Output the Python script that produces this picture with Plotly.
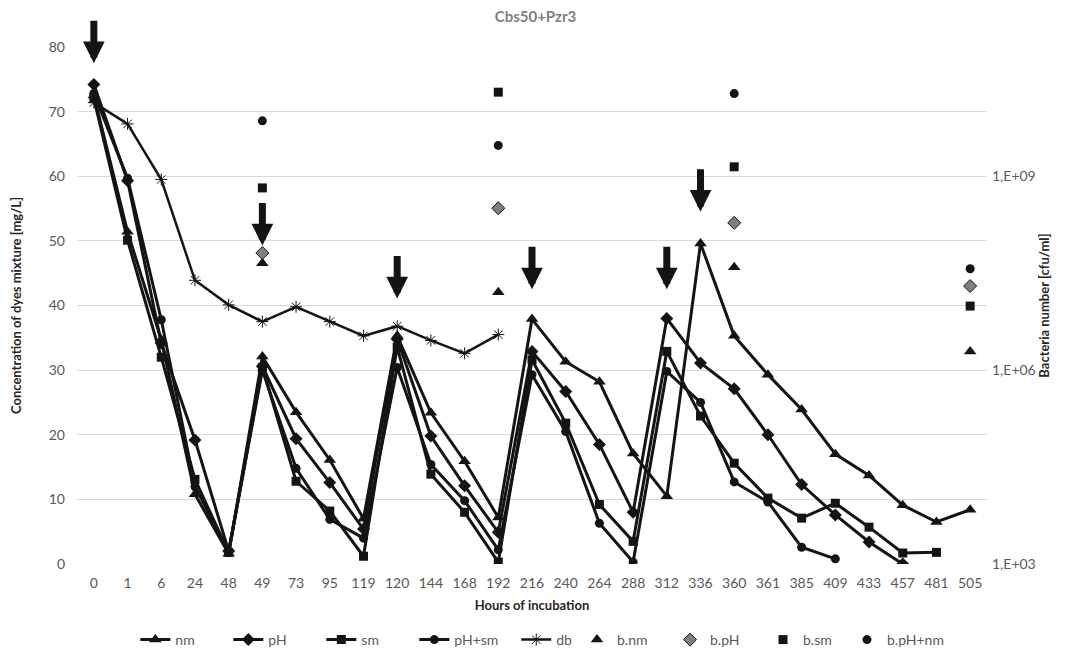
import plotly.graph_objects as go

hours = ["0", "1", "6", "24", "48", "49", "73", "95", "119", "120", "144", "168", "192",
         "216", "240", "264", "288", "312", "336", "360", "361", "385", "409", "433",
         "457", "481", "505"]

nm = [72.5, 51.4, 34.7, 10.8, 1.6, 32.1, 23.5, 16.1, 7.0, 35.3, 23.4, 15.9, 7.2,
      37.9, 31.3, 28.2, 17.1, 10.5, 49.6, 35.3, 29.3, 23.9, 17.0, 13.7, 9.1, 6.5, 8.4]
pH = [74.2, 59.3, 34.2, 19.2, 2.0, 30.6, 19.4, 12.6, 5.4, 34.8, 19.8, 12.1, 4.9,
      32.9, 26.7, 18.5, 8.0, 38.0, 31.1, 27.1, 20.0, 12.3, 7.6, 3.4, 0.0, None, None]
sm = [72.0, 50.1, 32.0, 13.1, 1.8, 30.4, 12.8, 8.2, 1.2, 33.6, 13.9, 8.0, 0.3,
      31.6, 21.8, 9.2, 3.5, 32.9, 22.9, 15.6, 10.2, 7.1, 9.4, 5.7, 1.7, 1.8, None]
pH_sm = [72.8, 59.7, 37.8, 12.0, 1.9, 30.0, 14.8, 6.9, 4.0, 30.4, 15.4, 9.8, 2.2,
         29.3, 20.5, 6.3, 0.3, 29.8, 25.0, 12.7, 9.6, 2.6, 0.8, None, None, None, None]
db = [71.4, 68.1, 59.5, 43.9, 40.1, 37.5, 39.8, 37.5, 35.3, 36.8, 34.6, 32.6, 35.5,
      None, None, None, None, None, None, None, None, None, None, None, None, None, None]

b_hours = ["49", "192", "360", "505"]
b_nm = [4.5e7, 1.6e7, 3.9e7, 1.95e6]
b_pH = [6.5e7, 3.2e8, 1.9e8, 2.0e7]
b_sm = [6.6e8, 2.0e10, 1.4e9, 9.8e6]
b_pH_nm = [7.2e9, 3.0e9, 1.9e10, 3.7e7]

arrow_hours = ["0", "49", "120", "216", "312", "336"]
arrow_tip = [77.5, 49.3, 41.1, 42.5, 42.5, 54.5]

FONT = "Lato, 'Open Sans', sans-serif"
LINE = "#141414"

fig = go.Figure()

line_series = [
    ("nm", nm, "triangle-up", 11),
    ("pH", pH, "diamond", 10),
    ("sm", sm, "square", 9),
    ("pH+sm", pH_sm, "circle", 9),
]
for name, vals, sym, size in line_series:
    fig.add_trace(go.Scatter(
        x=hours, y=vals, name=name, mode="lines+markers", legend="legend",
        line=dict(color=LINE, width=3),
        marker=dict(symbol=sym, size=size, color=LINE),
        connectgaps=False,
    ))

fig.add_trace(go.Scatter(
    x=hours, y=db, name="db", mode="lines+markers", legend="legend2",
    line=dict(color=LINE, width=2.5),
    marker=dict(symbol="asterisk-open", size=10, color=LINE, line=dict(color=LINE, width=1)),
))

bact = [
    ("b.nm", b_nm, "triangle-up", 11, LINE, "legend3"),
    ("b.pH", b_pH, "diamond", 10, "#7f7f7f", "legend3"),
    ("b.sm", b_sm, "square", 9, LINE, "legend3"),
    ("b.pH+nm", b_pH_nm, "circle", 9, LINE, "legend4"),
]
for name, vals, sym, size, col, leg in bact:
    fig.add_trace(go.Scatter(
        x=b_hours, y=vals, name=name, mode="markers", yaxis="y2", legend=leg,
        marker=dict(symbol=sym, size=size, color=col, line=dict(color=LINE, width=1 if col != LINE else 0)),
    ))

annotations = []
for h, tip in zip(arrow_hours, arrow_tip):
    annotations.append(dict(
        x=hours.index(h), y=tip, xref="x", yref="y", text="", showarrow=True,
        ax=0, ay=-44, arrowhead=2, arrowwidth=7, arrowsize=0.62, arrowcolor=LINE,
    ))


def legend_at(xpos, entry, anchor="left"):
    d = dict(orientation="h", xref="container", yref="container",
             x=xpos, xanchor=anchor, y=1 - 632 / 661, yanchor="middle",
             font=dict(size=14, color="#595959"), traceorder="normal",
             bgcolor="rgba(0,0,0,0)")
    if entry:
        d.update(entrywidth=entry, entrywidthmode="pixels")
    return d


fig.update_layout(
    width=1070, height=661,
    margin=dict(l=69, r=91, t=39, b=105),
    paper_bgcolor="white", plot_bgcolor="white",
    font=dict(family=FONT, size=14, color="#595959"),
    title=dict(text="<b>Cbs50+Pzr3</b>", xref="container", x=0.493, xanchor="center",
               yref="container", y=1 - 9 / 661, yanchor="middle",
               font=dict(family=FONT, size=15, color="#808080")),
    xaxis=dict(type="category", categoryorder="array", categoryarray=hours,
               range=[-0.5, len(hours) - 0.5], autorange=False, automargin=False,
               showgrid=False, showline=False, zeroline=False, ticks="",
               ticklabelstandoff=9,
               tickfont=dict(size=14, color="#595959"),
               title=dict(text="<b>Hours of incubation</b>", standoff=10,
                          font=dict(size=13, color="#262626"))),
    yaxis=dict(range=[0, 80], dtick=10, showgrid=True, gridcolor="#d9d9d9", gridwidth=1,
               zeroline=False, showline=False, ticks="", automargin=False,
               ticklabelstandoff=11,
               tickfont=dict(size=14, color="#595959"),
               title=dict(text="<b>Concentration of dyes mixture [mg/L]</b>", standoff=32,
                          font=dict(size=13, color="#262626"))),
    yaxis2=dict(type="log", range=[3, 11], overlaying="y", side="right", automargin=False,
                tickvals=[1e3, 1e6, 1e9], ticktext=["1,E+03", "1,E+06", "1,E+09"],
                showgrid=False, zeroline=False, showline=False, ticks="",
                ticklabelstandoff=4,
                tickfont=dict(size=14, color="#595959"),
                title=dict(text="<b>Bacteria number [cfu/ml]</b>", standoff=3,
                           font=dict(size=13, color="#262626"))),
    legend=legend_at(0.119, 48),
    legend2=legend_at(0.532, None, "right"),
    legend3=legend_at(0.5318, 48),
    legend4=legend_at(0.7841, None),
    annotations=annotations,
    showlegend=True,
)

fig.write_html("out.html")
